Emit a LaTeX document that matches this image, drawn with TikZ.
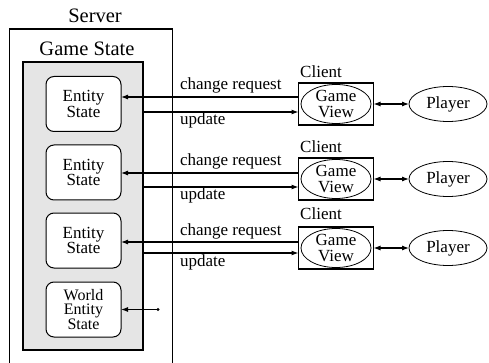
\documentclass[tikz,border=0pt]{standalone}
\usepackage{fontspec}
\setmainfont{Liberation Serif}
\usetikzlibrary{shapes.geometric,arrows.meta}
\begin{document}
\begin{tikzpicture}[x=1pt,y=-1pt,
  every node/.style={font=\fontsize{17}{15.5}\selectfont, inner sep=0pt, outer sep=0pt},
  biglbl/.style={font=\fontsize{20.5}{20}\selectfont},
  frame/.style={draw, line width=1.3pt, anchor=north west},
  entbox/.style={draw, fill=white, rounded corners=8pt, line width=1pt,
    minimum width=75pt, minimum height=55pt, align=center},
  clientbox/.style={draw, line width=1.2pt, minimum width=75pt, minimum height=42pt},
  viewell/.style={draw, ellipse, line width=0.8pt, minimum width=70pt,
    minimum height=39pt, align=center},
  playerell/.style={draw, ellipse, line width=0.8pt, minimum width=78pt, minimum height=35pt},
  conn/.style={line width=1.1pt},
  arr/.style={-{Latex[length=7pt,width=5pt]}},
  biarr/.style={{Latex[length=7pt,width=5pt]}-{Latex[length=7pt,width=5pt]}},
  msg/.style={anchor=base west}
]
\clip (0,0) rectangle (489,363);

% server and its game state
\node[frame, minimum width=163pt, minimum height=345pt] (server) at (9.5,29) {};
\node[biglbl] (serverlbl) at (95,16) {Server};
\node[frame, fill=gray!20, line width=1.2pt, minimum width=120pt, minimum height=288pt] (gstate) at (23,62) {};
\node[biglbl] (gstatelbl) at (87,49) {Game State};

% entity states
\node[entbox] (es1) at (83.5,104) {Entity\\State};
\node[entbox] (es2) at (83.5,172.5) {Entity\\State};
\node[entbox] (es3) at (83.5,240.5) {Entity\\State};
\node[entbox, font=\fontsize{16}{14.5}\selectfont] (ws) at (83.5,309.5) {World\\Entity\\State};

% clients
\foreach \i/\y in {1/104, 2/179, 3/248}{
  \node[clientbox] (cb\i) at (336,\y) {};
  \node[viewell] (gv\i) at (336,\y) {Game\\View};
  \node[playerell] (pl\i) at (448,\y) {Player};
  \draw[conn, biarr] (cb\i.east) -- (pl\i.west);
}
\node (cl1) at (321,72) {Client};
\node (cl2) at (321,147) {Client};
\node (cl3) at (321,214) {Client};

% message lines
\coordinate (cr1) at (0,97);  \coordinate (up1) at (0,112);
\coordinate (cr2) at (0,173); \coordinate (up2) at (0,187);
\coordinate (cr3) at (0,242); \coordinate (up3) at (0,253);
\foreach \i in {1,2,3}{
  \draw[conn, arr] (cb\i.west |- cr\i) -- (es\i.east |- cr\i);
  \draw[conn, arr] (gstate.east |- up\i) -- (cb\i.west |- up\i);
}
\node[msg] (crl1) at (180,90) {change request};
\node[msg] (upl1) at (180,125) {update};
\node[msg] (crl2) at (180,166) {change request};
\node[msg] (upl2) at (180,200) {update};
\node[msg] (crl3) at (180,235) {change request};
\node[msg] (upl3) at (180,266) {update};

% world entity link
\coordinate (wdot) at (158,309.5);
\draw[conn, arr] (wdot) -- (ws.east |- wdot);
\fill (wdot) circle (1.7pt);
\end{tikzpicture}
\end{document}
